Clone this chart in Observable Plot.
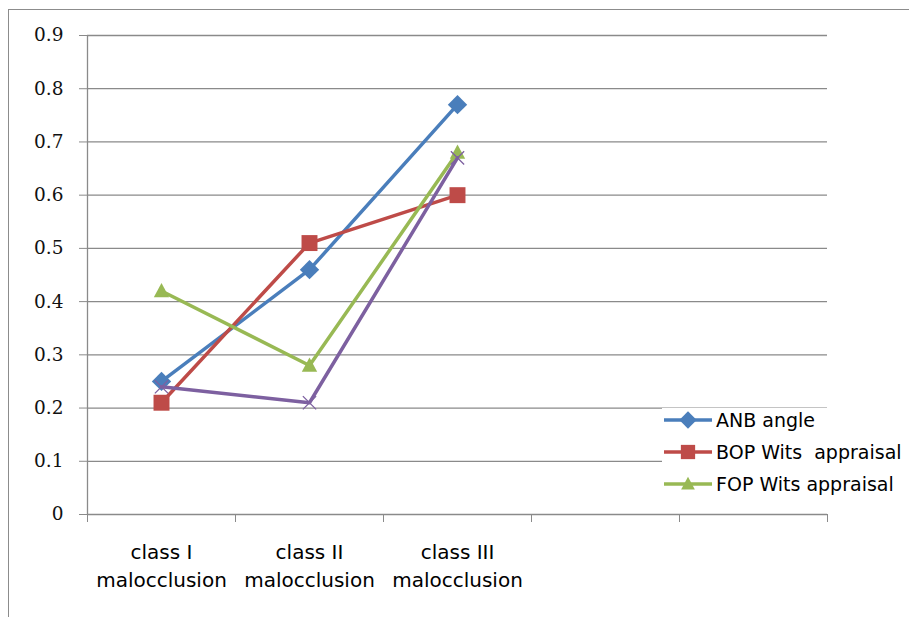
<!DOCTYPE html>
<html>
<head>
<meta charset="utf-8">
<script src="https://cdn.jsdelivr.net/npm/d3@7"></script>
<script src="https://cdn.jsdelivr.net/npm/@observablehq/plot@0.6"></script>
<style>
  html, body { margin: 0; padding: 0; background: #fff; }
  #wrap { position: relative; width: 909px; height: 617px; overflow: hidden; }
  #border { position: absolute; left: 8px; top: 9px; width: 1000px; height: 700px; border-left: 1.5px solid #8c8c8c; border-top: 1.5px solid #8c8c8c; }
  #chart { position: absolute; left: 0; top: 0; }
  #legend { position: absolute; left: 662px; top: 408px; width: 260px; height: 92px; background: #fff; font-family: "DejaVu Sans", sans-serif; font-size: 19px; color: #000; }
  .row { position: absolute; left: 0; height: 24px; display: flex; align-items: center; white-space: pre; }
  .row svg { margin-right: 2px; }
</style>
</head>
<body>
<div id="wrap">
  <div id="border"></div>
  <div id="chart"></div>
  <div id="legend"></div>
</div>
<script>
// ---- data ----
const categories = ["class I\nmalocclusion", "class II\nmalocclusion", "class III\nmalocclusion"];
const categorySlots = 5;
const yTicks = [0, 0.1, 0.2, 0.3, 0.4, 0.5, 0.6, 0.7, 0.8, 0.9];
const seriesNames = ["ANB angle", "BOP Wits  appraisal", "FOP Wits appraisal", "Series4"];
const anbAngle = [0.25, 0.46, 0.77];
const bopWits = [0.21, 0.51, 0.60];
const fopWits = [0.42, 0.28, 0.68];
const series4 = [0.24, 0.21, 0.67];
const seriesColors = ["#4a7ebb", "#be4b48", "#98b954", "#7d60a0"];
const inLegend = [true, true, true, false];

// ---- custom symbols ----
const diamond = { draw(ctx, size) { const s = Math.sqrt(size) * 0.78; ctx.moveTo(0, -s); ctx.lineTo(s, 0); ctx.lineTo(0, s); ctx.lineTo(-s, 0); ctx.closePath(); } };
const square = { draw(ctx, size) { const s = Math.sqrt(size) * 0.5; ctx.rect(-s, -s, 2 * s, 2 * s); } };
const triangle = { draw(ctx, size) { const s = Math.sqrt(size) * 0.55; ctx.moveTo(0, -s * 1.1); ctx.lineTo(s * 1.05, s * 0.85); ctx.lineTo(-s * 1.05, s * 0.85); ctx.closePath(); } };
const times = { draw(ctx, size) { const s = Math.sqrt(size) * 0.5; ctx.moveTo(-s, -s); ctx.lineTo(s, s); ctx.moveTo(s, -s); ctx.lineTo(-s, s); } };
const symbols = [diamond, square, triangle, times];
const symbolR = [7, 9, 7.5, 7.5];

const valuesList = [anbAngle, bopWits, fopWits, series4];
const rows = valuesList.flatMap((vals, s) => vals.map((v, i) => ({ s, name: seriesNames[s], x: i + 0.5, y: v })));

const marks = [
  Plot.gridY(yTicks.filter(d => d > 0), { stroke: "#8a8a8a", strokeOpacity: 1, strokeWidth: 1.3 }),
  Plot.ruleY([0], { stroke: "#8a8a8a", strokeWidth: 1.3 }),
  Plot.ruleX([0], { stroke: "#8a8a8a", strokeWidth: 1.3 }),
  Plot.axisY({ ticks: yTicks, tickSize: 8, tickPadding: 16, stroke: "#8a8a8a", fill: "#111",
    tickFormat: d => d === 0 ? "0" : d.toFixed(1), fontSize: 18.5, fontFamily: "DejaVu Serif", label: null }),
  Plot.axisX({ ticks: d3.range(categorySlots + 1), tickSize: 8, stroke: "#8a8a8a", tickFormat: () => "", label: null }),
  Plot.text(categories, { x: (d, i) => i + 0.5, frameAnchor: "bottom", lineAnchor: "top", dy: 25, lineHeight: 1.4,
    fontSize: 20, fontFamily: "DejaVu Sans", fill: "#000", text: d => d })
];
for (let s = 0; s < valuesList.length; s++) {
  const d = rows.filter(r => r.s === s);
  marks.push(Plot.line(d, { x: "x", y: "y", stroke: seriesColors[s], strokeWidth: 3.5 }));
  if (s === 3) {
    marks.push(Plot.dot(d, { x: "x", y: "y", symbol: symbols[s], r: symbolR[s], stroke: seriesColors[s], strokeWidth: 1.3, fill: "none" }));
  } else {
    marks.push(Plot.dot(d, { x: "x", y: "y", symbol: symbols[s], r: symbolR[s], fill: seriesColors[s], stroke: "none" }));
  }
}

const chart = Plot.plot({
  width: 909, height: 617,
  marginLeft: 87, marginRight: 82, marginTop: 35, marginBottom: 103,
  x: { domain: [0, categorySlots], axis: null },
  y: { domain: [0, 0.9], axis: null },
  style: { background: "transparent", overflow: "visible", fontFamily: "'DejaVu Serif', serif" },
  marks
});
document.getElementById("chart").appendChild(chart);

// ---- legend ----
const legend = document.getElementById("legend");
let k = 0;
seriesNames.forEach((name, s) => {
  if (!inLegend[s]) return;
  const row = document.createElement("div");
  row.className = "row";
  row.style.top = (0 + k * 32) + "px";
  const sw = d3.create("svg").attr("width", 52).attr("height", 24);
  sw.append("line").attr("x1", 2).attr("x2", 50).attr("y1", 12).attr("y2", 12).attr("stroke", seriesColors[s]).attr("stroke-width", 3.5);
  const p = d3.path();
  symbols[s].draw(p, Math.PI * symbolR[s] * symbolR[s] * 0.8);
  sw.append("path").attr("transform", "translate(26,12)").attr("d", p.toString()).attr("fill", seriesColors[s]);
  row.appendChild(sw.node());
  row.appendChild(document.createTextNode(name));
  legend.appendChild(row);
  k++;
});
</script>
</body>
</html>
